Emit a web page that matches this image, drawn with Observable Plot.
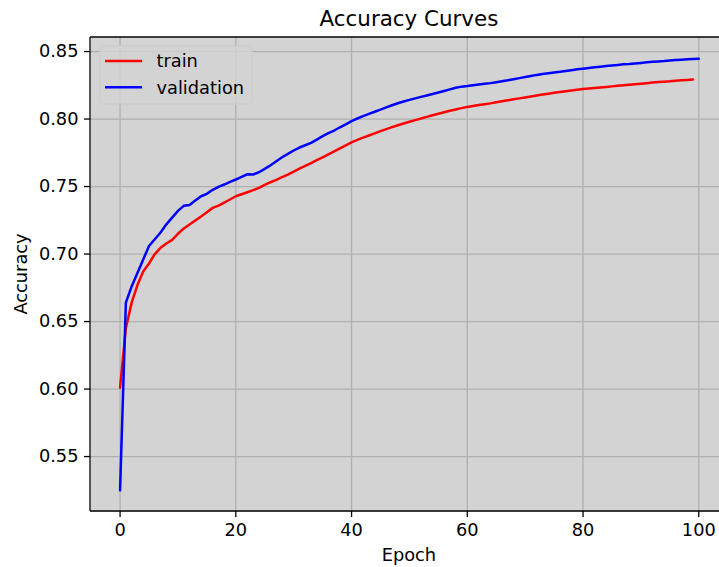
<!DOCTYPE html>
<html><head><meta charset="utf-8">
<script src="https://cdn.jsdelivr.net/npm/d3@7"></script>
<script src="https://cdn.jsdelivr.net/npm/@observablehq/plot@0.6"></script>
<style>body{margin:0;background:#fff;}</style>
</head><body><div id="chart"></div>
<script>
const title = "Accuracy Curves";
const xLabel = "Epoch";
const yLabel = "Accuracy";
const seriesNames = ["train", "validation"];
const seriesColors = ["red", "blue"];
const xTicks = [0, 20, 40, 60, 80, 100];
const yTicks = [0.55, 0.60, 0.65, 0.70, 0.75, 0.80, 0.85];

// train accuracy, epochs 0..99
const trainAcc = [
  0.601, 0.645, 0.664, 0.677, 0.687, 0.693, 0.700, 0.7046, 0.7078, 0.7105,
  0.7150, 0.7189, 0.7219, 0.7248, 0.7278, 0.7310, 0.7342, 0.7359, 0.7381, 0.7404,
  0.7428, 0.7443, 0.7458, 0.7473, 0.7490, 0.7512, 0.7532, 0.7549, 0.7569, 0.7589,
  0.7611, 0.7632, 0.7653, 0.7674, 0.7695, 0.7716, 0.7738, 0.7760, 0.7782, 0.7805,
  0.7827, 0.7845, 0.7862, 0.7878, 0.7894, 0.7910, 0.7925, 0.7940, 0.7954, 0.7967,
  0.7980, 0.7992, 0.8004, 0.8016, 0.8028, 0.8039, 0.8050, 0.8061, 0.8071, 0.8081,
  0.8090, 0.8097, 0.8104, 0.8110, 0.8116, 0.8124, 0.8132, 0.8139, 0.8146, 0.8153,
  0.8160, 0.8167, 0.8174, 0.8181, 0.8188, 0.8194, 0.8200, 0.8206, 0.8212, 0.8217,
  0.8222, 0.8226, 0.8230, 0.8234, 0.8238, 0.8242, 0.8246, 0.8250, 0.8254, 0.8258,
  0.8262, 0.8266, 0.8270, 0.8274, 0.8277, 0.8280, 0.8284, 0.8287, 0.8290, 0.8293
];
// validation accuracy, epochs 0..100
const valAcc = [
  0.525, 0.664, 0.676, 0.686, 0.696, 0.706, 0.711, 0.716, 0.722, 0.727,
  0.732, 0.7357, 0.7364, 0.7396, 0.7428, 0.7446, 0.7476, 0.7498, 0.7515, 0.7535,
  0.7552, 0.7572, 0.7591, 0.7589, 0.7606, 0.7631, 0.7658, 0.7688, 0.7717, 0.7742,
  0.7767, 0.7789, 0.7806, 0.7824, 0.7848, 0.7873, 0.7895, 0.7915, 0.7939, 0.7961,
  0.7985, 0.8004, 0.8022, 0.8038, 0.8054, 0.8070, 0.8086, 0.8102, 0.8117, 0.8130,
  0.8142, 0.8153, 0.8164, 0.8175, 0.8186, 0.8197, 0.8208, 0.8220, 0.8232, 0.8240,
  0.8245, 0.8251, 0.8256, 0.8261, 0.8266, 0.8273, 0.8280, 0.8287, 0.8295, 0.8303,
  0.8311, 0.8319, 0.8327, 0.8333, 0.8339, 0.8345, 0.8350, 0.8356, 0.8362, 0.8368,
  0.8373, 0.8378, 0.8383, 0.8388, 0.8393, 0.8397, 0.8401, 0.8405, 0.8408, 0.8412,
  0.8416, 0.8420, 0.8424, 0.8427, 0.8430, 0.8434, 0.8437, 0.8440, 0.8443, 0.8445,
  0.8447
];

const rows = [];
trainAcc.forEach((v, i) => rows.push({epoch: i, acc: v, series: seriesNames[0]}));
valAcc.forEach((v, i) => rows.push({epoch: i, acc: v, series: seriesNames[1]}));

const W = 719, H = 567;
const FS = "17.8px";
const mLeft = 90, mTop = 37, mBottom = 56;
const plot = Plot.plot({
  width: W, height: H,
  marginLeft: mLeft, marginRight: 0, marginTop: mTop, marginBottom: mBottom,
  style: {fontFamily: "DejaVu Sans", fontSize: FS, color: "#000", background: "#fff", overflow: "visible"},
  x: {domain: [-5.11, 103.58]},
  y: {domain: [0.5093, 0.8604]},
  color: {domain: seriesNames, range: seriesColors},
  marks: [
    Plot.frame({fill: "#d3d3d3"}),
    Plot.gridX(xTicks, {stroke: "#b0b0b0", strokeOpacity: 1, strokeWidth: 1.3}),
    Plot.gridY(yTicks, {stroke: "#b0b0b0", strokeOpacity: 1, strokeWidth: 1.3}),
    Plot.line(rows, {x: "epoch", y: "acc", z: "series", stroke: "series", strokeWidth: 2.5}),
    Plot.axisX(xTicks, {tickSize: 6, tickPadding: 6, label: null, stroke: "#000", strokeWidth: 1.3, fill: "#000"}),
    Plot.axisY(yTicks, {tickSize: 6, tickPadding: 6, label: null, tickFormat: d3.format(".2f"), stroke: "#000", strokeWidth: 1.3, fill: "#000"})
  ]
});

const svg = d3.select(plot);
const xs = plot.scale("x");
const topY = mTop, leftX = mLeft, bottomY = H - mBottom;
const axesCenterX = (xs.apply(-5) + xs.apply(105)) / 2;

// spines (top, left, bottom)
const sp = svg.append("g").attr("stroke", "#000").attr("stroke-width", 1.3);
sp.append("line").attr("x1", leftX).attr("x2", W).attr("y1", topY).attr("y2", topY);
sp.append("line").attr("x1", leftX).attr("x2", leftX).attr("y1", topY).attr("y2", bottomY);
sp.append("line").attr("x1", leftX).attr("x2", W).attr("y1", bottomY).attr("y2", bottomY);

// title
svg.append("text").attr("x", axesCenterX).attr("y", 26).attr("text-anchor", "middle")
  .attr("font-size", "21.4px").attr("fill", "#000").text(title);
// x label
svg.append("text").attr("x", axesCenterX).attr("y", 561).attr("text-anchor", "middle")
  .attr("font-size", FS).attr("fill", "#000").text(xLabel);
// y label
svg.append("text").attr("transform", `translate(26.5,${(topY + bottomY) / 2}) rotate(-90)`)
  .attr("text-anchor", "middle").attr("font-size", FS).attr("fill", "#000").text(yLabel);

// legend
const lg = svg.append("g");
lg.append("rect").attr("x", 100).attr("y", 46).attr("width", 152).attr("height", 58).attr("rx", 4)
  .attr("fill", "#d3d3d3").attr("fill-opacity", 0.8).attr("stroke", "#cccccc").attr("stroke-opacity", 0.8).attr("stroke-width", 1.3);
seriesNames.forEach((name, i) => {
  const yy = 61 + i * 26.3;
  lg.append("line").attr("x1", 105).attr("x2", 142).attr("y1", yy).attr("y2", yy)
    .attr("stroke", seriesColors[i]).attr("stroke-width", 2.5);
  lg.append("text").attr("x", 156.5).attr("y", yy).attr("dy", "0.35em")
    .attr("text-anchor", "start")
    .attr("font-size", FS).attr("fill", "#000").text(name);
});

document.getElementById("chart").appendChild(plot);
</script>
</body></html>
